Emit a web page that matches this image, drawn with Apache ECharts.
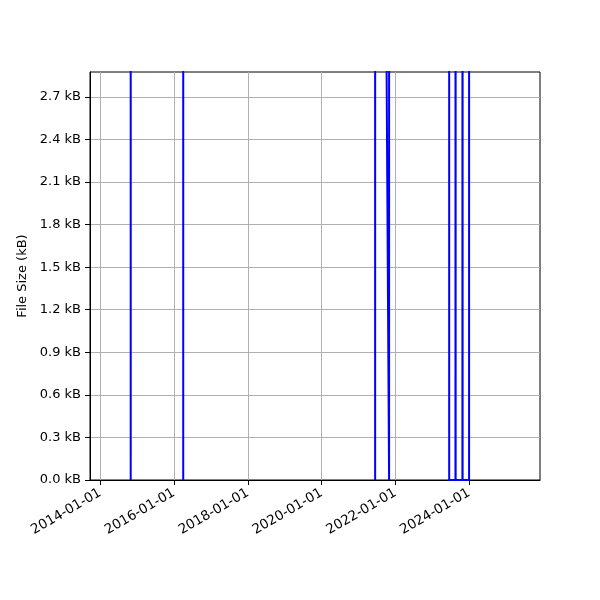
<!DOCTYPE html>
<html><head><meta charset="utf-8">
<script src="https://cdn.jsdelivr.net/npm/echarts@6/dist/echarts.min.js"></script>
<style>html,body{margin:0;padding:0;background:#fff}#c{width:600px;height:600px}</style>
</head><body><div id="c"></div>
<script>
// Dates of the data points (UTC) and file sizes in kB (values above 2.875 kB run off the top of the plot)
var dates = [
  '2014-04-10','2014-10-28','2014-10-29','2014-10-30',
  '2016-03-31','2016-04-01','2016-04-02',
  '2021-06-13','2021-06-14','2021-06-15','2021-10-30','2021-10-31',
  '2023-06-16','2023-06-17','2023-08-18','2023-08-19','2023-08-20',
  '2023-10-26','2023-10-27','2023-10-28','2023-12-31','2024-01-01',
  '2025-05-14'
];
var sizesKB = [
  16, 16, 0, 16,
  16, 0, 16,
  16, 0, 16, 0, 16,
  16, 0, 0, 16, 0,
  0, 16, 0, 0, 16,
  16
];
var xTickLabels = ['2014-01-01','2016-01-01','2018-01-01','2020-01-01','2022-01-01','2024-01-01'];
var yTickValues = [0, 0.3, 0.6, 0.9, 1.2, 1.5, 1.8, 2.1, 2.4, 2.7];
var xMinDate = '2013-09-21', xMaxDate = '2025-12-02';
var yMax = 2.875;

function ts(s){ var p = s.split('-'); return Date.UTC(+p[0], +p[1]-1, +p[2]); }
function fmt(v){ var d = new Date(v); var m = d.getUTCMonth()+1, dd = d.getUTCDate();
  return d.getUTCFullYear() + '-' + (m<10?'0':'') + m + '-' + (dd<10?'0':'') + dd; }

var xTicks = xTickLabels.map(ts);
var seriesData = dates.map(function(d,i){ return [ts(d), sizesKB[i]]; });
var font = 'DejaVu Sans';

var chart = echarts.init(document.getElementById('c'), null, {renderer:'canvas'});
chart.setOption({
  animation: false,
  backgroundColor: '#ffffff',
  grid: { left: 90, right: 60, top: 72, bottom: 120, show: true, borderColor: '#000', borderWidth: 1, backgroundColor: 'transparent' },
  xAxis: {
    type: 'value', min: ts(xMinDate), max: ts(xMaxDate), scale: true,
    axisLine: { show: true, onZero: false, lineStyle: { color: '#000', width: 1 } },
    axisTick: { show: true, length: 5, lineStyle: { color: '#000' }, customValues: xTicks },
    axisLabel: { customValues: xTicks, rotate: 30, margin: 12, color: '#000', fontFamily: font, fontSize: 13.5,
      formatter: function(v){ return fmt(v); } },
    splitLine: { show: true, lineStyle: { color: '#b0b0b0', width: 1 } }
  },
  yAxis: {
    type: 'value', min: 0, max: yMax,
    name: 'File Size (kB)', nameLocation: 'middle', nameGap: 54, nameRotate: 90,
    nameTextStyle: { color: '#000', fontFamily: font, fontSize: 13 },
    axisLine: { show: true, lineStyle: { color: '#000', width: 1 } },
    axisTick: { show: true, length: 5, lineStyle: { color: '#000' }, customValues: yTickValues },
    axisLabel: { customValues: yTickValues, margin: 9, color: '#000', fontFamily: font, fontSize: 13,
      formatter: function(v){ return v.toFixed(1) + ' kB'; } },
    splitLine: { show: true, lineStyle: { color: '#b0b0b0', width: 1 } }
  },
  series: [{
    type: 'line', data: seriesData, showSymbol: false, symbol: 'none', clip: true,
    lineStyle: { color: '#0000ff', width: 2 }, itemStyle: { color: '#0000ff' }
  }]
});
</script></body></html>
